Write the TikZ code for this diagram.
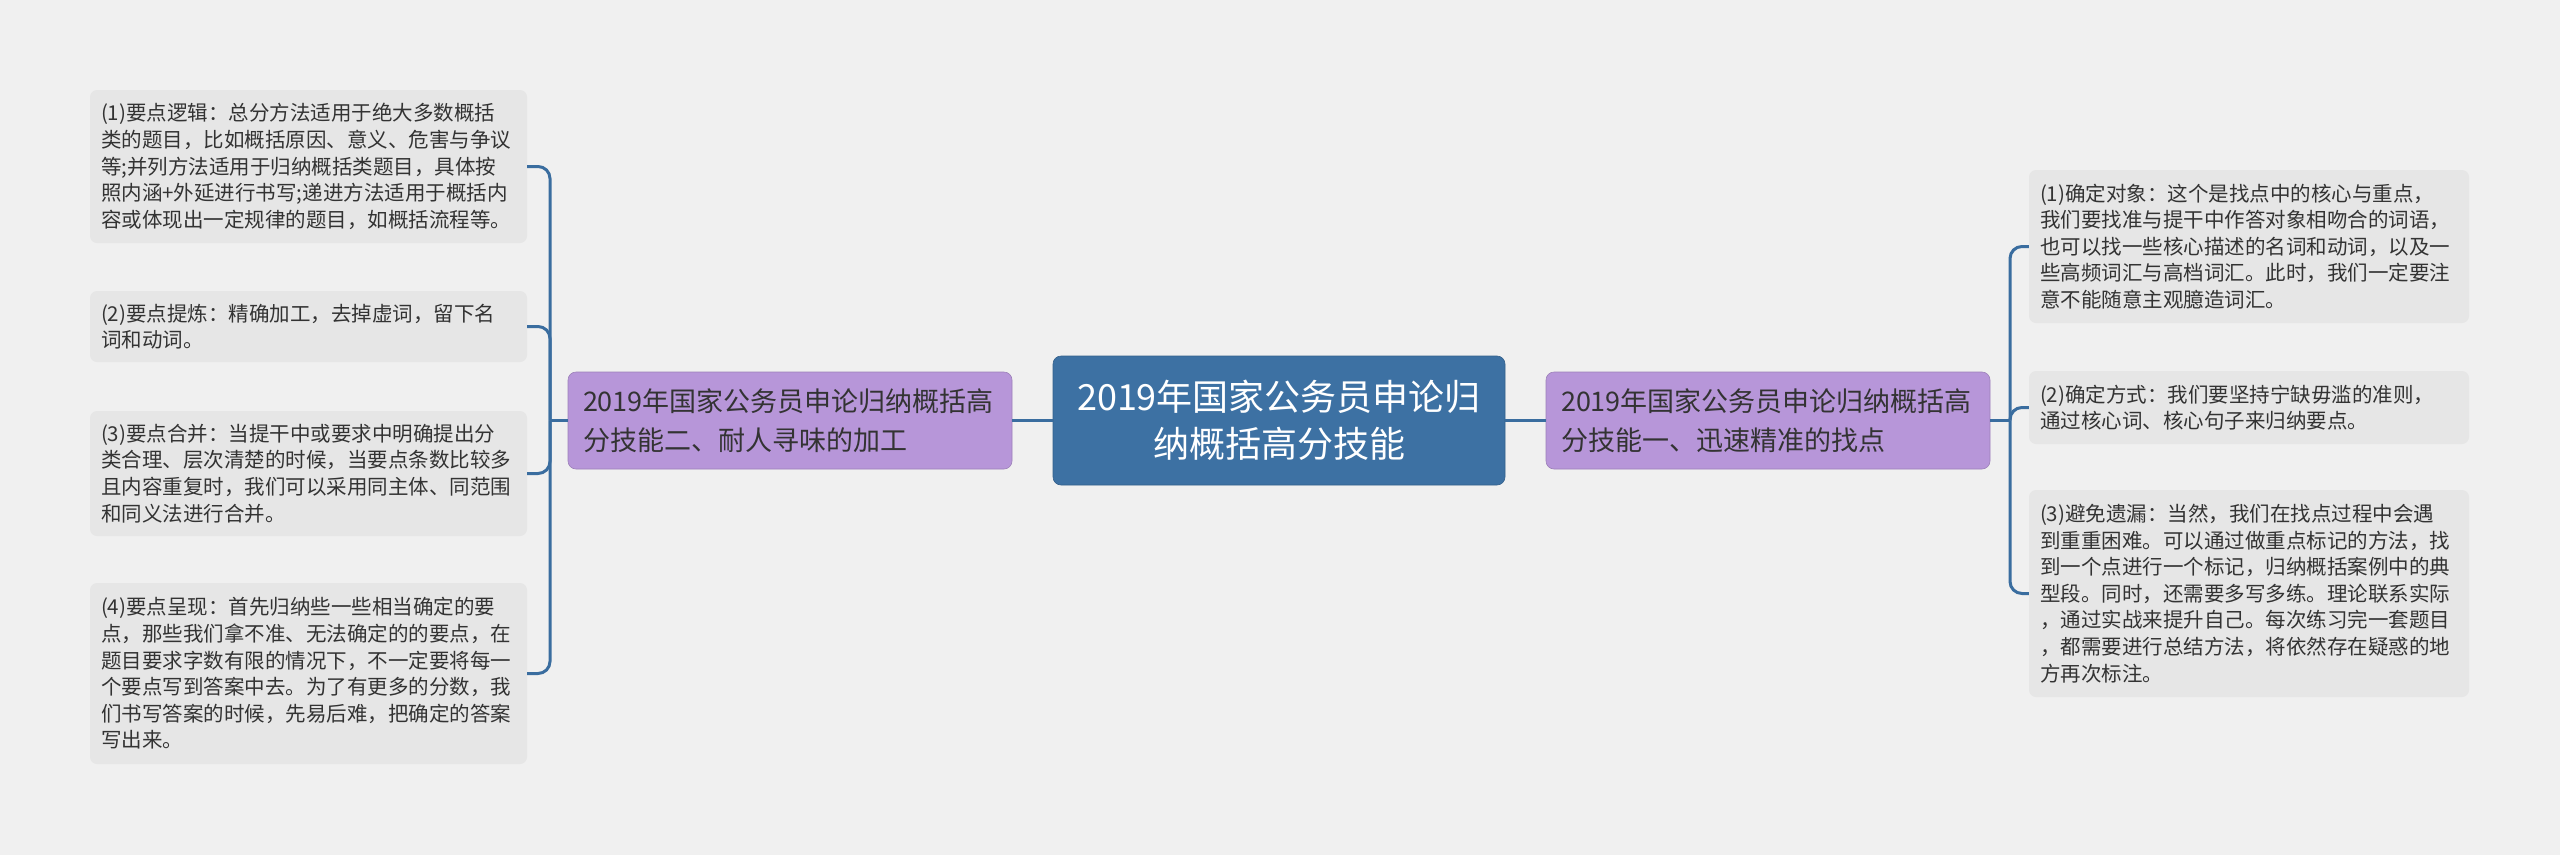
\documentclass[tikz,border=0pt]{standalone}
\usepackage{fontspec}
\setmainfont{Noto Sans CJK SC}
\definecolor{bgc}{HTML}{F0F0F0}
\definecolor{leafc}{HTML}{E6E6E6}
\definecolor{centralc}{HTML}{3D71A3}
\definecolor{branchc}{HTML}{B796D9}
\definecolor{linec}{HTML}{3A6D9F}
\definecolor{txtc}{HTML}{333333}
\begin{document}
\begin{tikzpicture}[x=1pt,y=-1pt,
  leafbox/.style={fill=leafc, rounded corners=7pt, text=txtc, align=left,
    text width=415pt, inner xsep=11pt, inner ysep=2pt,
    font=\fontsize{20.5pt}{26.6pt}\selectfont},
  rleafbox/.style={leafbox, text width=418pt},
  branchbox/.style={fill=branchc, draw=branchc!85!black, line width=0.6pt, rounded corners=8pt,
    text=black!80, align=left, text width=414pt, inner xsep=15pt,
    minimum height=97pt, font=\fontsize{27pt}{39pt}\selectfont},
  centralbox/.style={fill=centralc, draw=centralc!85!black, line width=0.6pt, rounded corners=8pt,
    text=white, align=center, minimum width=452pt, minimum height=129pt,
    font=\fontsize{36pt}{47pt}\selectfont},
  conn/.style={draw=linec, line width=3pt},
  bconn/.style={conn, rounded corners=12pt}]
\useasboundingbox[fill=bgc] (0,0) rectangle (2560,855);

\node[centralbox] (C) at (1279,420.5) {2019年国家公务员申论归\\纳概括高分技能};
\node[branchbox] (LB) at (790,420.5) {2019年国家公务员申论归纳概括高\\分技能二、耐人寻味的加工};
\node[branchbox] (RB) at (1768,420.5) {2019年国家公务员申论归纳概括高\\分技能一、迅速精准的找点};

\node[leafbox, minimum height=153pt] (L1) at (308.5,166.5) {(1)要点逻辑：总分方法适用于绝大多数概括\\类的题目，比如概括原因、意义、危害与争议\\等;并列方法适用于归纳概括类题目，具体按\\照内涵+外延进行书写;递进方法适用于概括内\\容或体现出一定规律的题目，如概括流程等。};
\node[leafbox, minimum height=71pt] (L2) at (308.5,326.5) {(2)要点提炼：精确加工，去掉虚词，留下名\\词和动词。};
\node[leafbox, minimum height=125pt] (L3) at (308.5,473.5) {(3)要点合并：当提干中或要求中明确提出分\\类合理、层次清楚的时候，当要点条数比较多\\且内容重复时，我们可以采用同主体、同范围\\和同义法进行合并。};
\node[leafbox, minimum height=181pt] (L4) at (308.5,673.5) {(4)要点呈现：首先归纳些一些相当确定的要\\点，那些我们拿不准、无法确定的的要点，在\\题目要求字数有限的情况下，不一定要将每一\\个要点写到答案中去。为了有更多的分数，我\\们书写答案的时候，先易后难，把确定的答案\\写出来。};

\node[rleafbox, minimum height=153pt] (R1) at (2249,246.5) {(1)确定对象：这个是找点中的核心与重点，\\我们要找准与提干中作答对象相吻合的词语，\\也可以找一些核心描述的名词和动词，以及一\\些高频词汇与高档词汇。此时，我们一定要注\\意不能随意主观臆造词汇。};
\node[rleafbox, minimum height=73pt] (R2) at (2249,407.5) {(2)确定方式：我们要坚持宁缺毋滥的准则，\\通过核心词、核心句子来归纳要点。};
\node[rleafbox, minimum height=207pt] (R3) at (2249,593.5) {(3)避免遗漏：当然，我们在找点过程中会遇\\到重重困难。可以通过做重点标记的方法，找\\到一个点进行一个标记，归纳概括案例中的典\\型段。同时，还需要多写多练。理论联系实际\\，通过实战来提升自己。每次练习完一套题目\\，都需要进行总结方法，将依然存在疑惑的地\\方再次标注。};

\coordinate (lj) at (550,420.5);
\coordinate (rj) at (2010,420.5);

\draw[conn] (C.west) -- (LB.east);
\draw[conn] (C.east) -- (RB.west);
\draw[conn] (LB.west) -- (lj);
\draw[conn] (RB.east) -- (rj);
\foreach \n in {L1,L2,L3,L4} \draw[bconn] (lj) |- (\n.east);
\foreach \n in {R1,R2,R3} \draw[bconn] (rj) |- (\n.west);
\end{tikzpicture}
\end{document}
